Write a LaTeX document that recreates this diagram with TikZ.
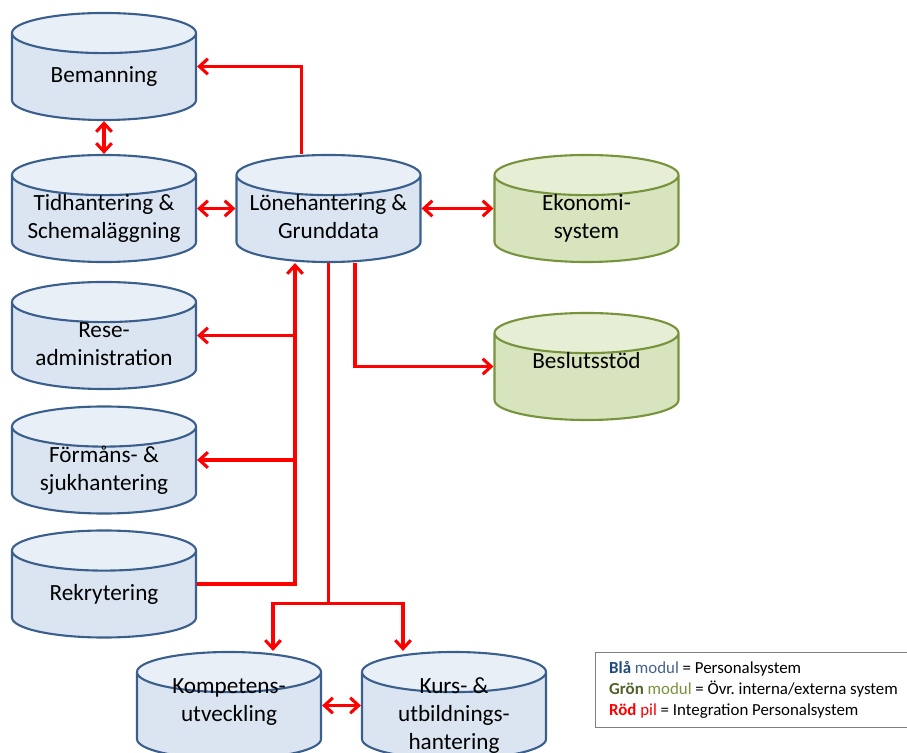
\documentclass[tikz,border=0pt]{standalone}
\usepackage{fontspec}
\setmainfont{Carlito}
\usepackage{xcolor}
\usetikzlibrary{shapes.geometric,arrows.meta,calc}

\definecolor{blaKant}{HTML}{3A5F8C}
\definecolor{blaKropp}{HTML}{DBE5F1}
\definecolor{blaTopp}{HTML}{E9EFF7}
\definecolor{gronKant}{HTML}{77933C}
\definecolor{gronKropp}{HTML}{D7E4BD}
\definecolor{gronTopp}{HTML}{E6EED5}
\definecolor{blaText}{HTML}{1F497D}
\definecolor{blaModul}{HTML}{44628C}
\definecolor{gronText}{HTML}{4F6228}
\definecolor{gronModul}{HTML}{76923C}
\definecolor{ramGra}{HTML}{7F7F7F}

% text i en modul, alltid lika stor
\newcommand{\modtext}[1]{\makebox[3cm]{\smash{\raisebox{-2pt}{\begin{tabular}{@{}c@{}}#1\end{tabular}}}}}

\tikzset{
    modul/.style={
        cylinder,
        shape border rotate=90,
        aspect=0.31,
        draw,
        line width=1.5pt,
        minimum height=2.675cm,
        minimum width=4.6cm,
        anchor=shape center,
        font=\fontsize{16.5}{20}\selectfont,
        cylinder uses custom fill
    },
    blamodul/.style={
        modul,
        draw=blaKant,
        cylinder body fill=blaKropp,
        cylinder end fill=blaTopp
    },
    gronmodul/.style={
        modul,
        draw=gronKant,
        cylinder body fill=gronKropp,
        cylinder end fill=gronTopp
    },
    rpil/.style={
        draw=red,
        line width=2.2pt,
        -{Straight Barb[length=6pt,width=11pt]}
    },
    rdubbel/.style={
        draw=red,
        line width=2.2pt,
        {Straight Barb[length=6pt,width=11pt]}-{Straight Barb[length=6pt,width=11pt]}
    }
}

\begin{document}
\begin{tikzpicture}[x=0.025cm,y=-0.025cm]
    \useasboundingbox (0,0) rectangle (907,753);
    \clip (0,0) rectangle (907,753);

    % personalsystem
    \node[blamodul] (bem)    at (104,66.5)  {\modtext{Bemanning}};
    \node[blamodul] (tid)    at (104,208.5) {\modtext{Tidhantering \&\\Schemaläggning}};
    \node[blamodul] (lon)    at (328.5,208.5) {\modtext{Lönehantering \&\\Grunddata}};
    \node[blamodul] (rese)   at (104,335.5) {\modtext{Rese-\\administration}};
    \node[blamodul] (forman) at (104,460)   {\modtext{Förmåns- \&\\sjukhantering}};
    \node[blamodul] (rek)    at (104,584)   {\modtext{Rekrytering}};
    \node[blamodul] (komp)   at (229,705.5) {\modtext{Kompetens-\\utveckling\\ \mbox{}}};
    \node[blamodul] (kurs)   at (454,705.5) {\modtext{Kurs- \&\\utbildnings-\\hantering}};

    % andra system
    \node[gronmodul] (eko)  at (586.5,208.5) {\modtext{Ekonomi-\\system}};
    \node[gronmodul] (besl) at (586.5,366.5) {\modtext{Beslutsstöd\\ \mbox{}}};

    % integrationer
    \coordinate (stam) at ($(lon.south)+(-33.5,0)$);
    \draw[rpil] ($(lon.north)+(-27,0)$) |- (bem.shape center -| bem.east);
    \draw[rdubbel] (bem.south) -- (tid.north);
    \draw[rdubbel] (tid.shape center -| tid.east) -- (lon.shape center -| lon.west);
    \draw[rdubbel] (lon.shape center -| lon.east) -- (eko.shape center -| eko.west);
    \draw[rpil] ($(lon.south)+(26.5,0)$) |- (besl.shape center -| besl.west);
    \draw[rpil] (rek.shape center -| rek.east) -| (stam);
    \draw[rpil] (stam |- rese.shape center) -- (rese.shape center -| rese.east);
    \draw[rpil] (stam |- forman.shape center) -- (forman.shape center -| forman.east);
    \draw[rpil] (lon.south) -- ++(0,340) -| ($(komp.north)+(44,0)$);
    \draw[rpil] (lon.south) -- ++(0,340) -| ($(kurs.north)+(-51,0)$);
    \draw[rdubbel] (komp.shape center -| komp.east) -- (kurs.shape center -| kurs.west);

    % forklaring
    \node[
        draw=ramGra,
        line width=0.6pt,
        anchor=north west,
        minimum width=7.9cm,
        minimum height=1.875cm,
        inner xsep=0.3cm,
        align=left,
        font=\fontsize{12}{14.9}\selectfont
        ] (forkl) at (595,652) {\textbf{\textcolor{blaText}{Blå}} \textcolor{blaModul}{modul} = Personalsystem\\
        \textbf{\textcolor{gronText}{Grön}} \textcolor{gronModul}{modul} = Övr.\ interna/externa system\\
        \textbf{\textcolor{red}{Röd}} \textcolor{red}{pil} = Integration Personalsystem};
\end{tikzpicture}
\end{document}
